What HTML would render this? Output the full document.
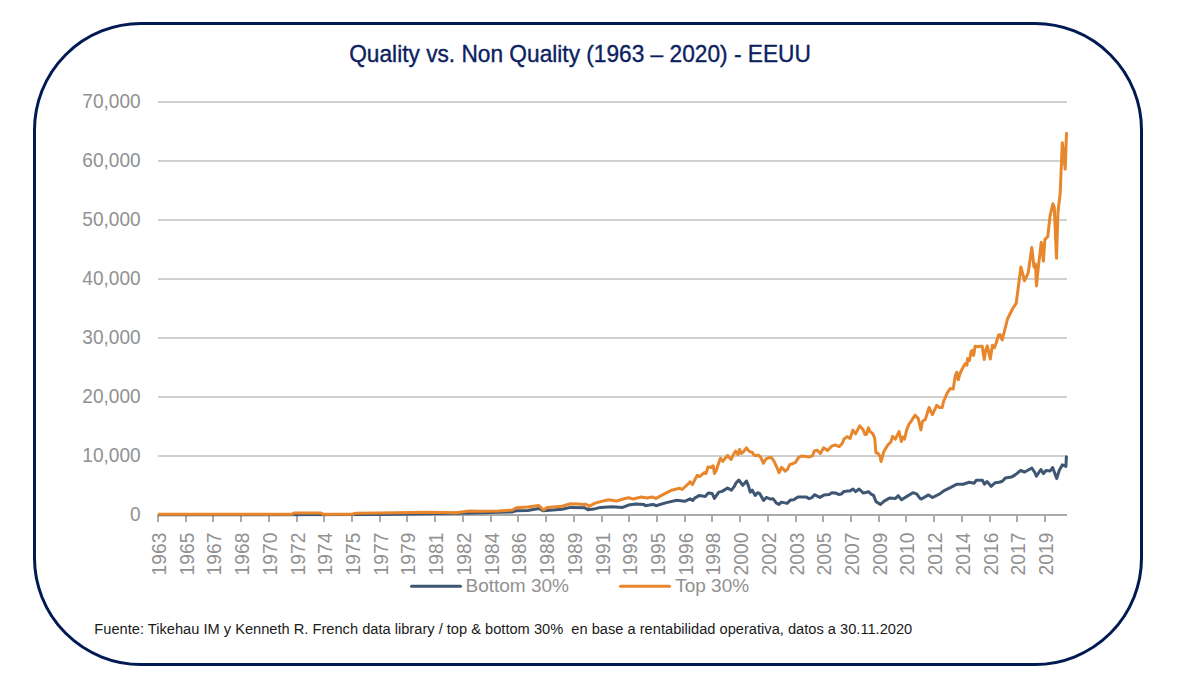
<!DOCTYPE html>
<html><head><meta charset="utf-8"><style>
html,body{margin:0;padding:0;background:#fff;}
body{width:1196px;height:688px;overflow:hidden;}
svg{display:block;}
text{font-family:"Liberation Sans",sans-serif;}
</style></head><body>
<svg width="1196" height="688" viewBox="0 0 1196 688">
<rect x="0" y="0" width="1196" height="688" fill="#fff"/>
<rect x="34.5" y="23.5" width="1107" height="641" rx="106.5" ry="106.5" fill="none" stroke="#001a52" stroke-width="3"/>
<text transform="translate(349.20,61.70) scale(1.0,1.09)" font-size="22.7" fill="#0c2260" stroke="#0c2260" stroke-width="0.35">Quality vs. Non Quality (1963 – 2020) - EEUU</text>
<line x1="158" y1="456.00" x2="1067" y2="456.00" stroke="#d0d0d0" stroke-width="2"/>
<line x1="158" y1="397.00" x2="1067" y2="397.00" stroke="#d0d0d0" stroke-width="2"/>
<line x1="158" y1="338.00" x2="1067" y2="338.00" stroke="#d0d0d0" stroke-width="2"/>
<line x1="158" y1="279.00" x2="1067" y2="279.00" stroke="#d0d0d0" stroke-width="2"/>
<line x1="158" y1="220.00" x2="1067" y2="220.00" stroke="#d0d0d0" stroke-width="2"/>
<line x1="158" y1="161.00" x2="1067" y2="161.00" stroke="#d0d0d0" stroke-width="2"/>
<line x1="158" y1="102.00" x2="1067" y2="102.00" stroke="#d0d0d0" stroke-width="2"/>
<text transform="translate(140.60,521.30) scale(1.0,1.05)" font-size="19.05" fill="#919191" text-anchor="end">0</text>
<text transform="translate(140.60,462.30) scale(1.0,1.05)" font-size="19.05" fill="#919191" text-anchor="end">10,000</text>
<text transform="translate(140.60,403.30) scale(1.0,1.05)" font-size="19.05" fill="#919191" text-anchor="end">20,000</text>
<text transform="translate(140.60,344.30) scale(1.0,1.05)" font-size="19.05" fill="#919191" text-anchor="end">30,000</text>
<text transform="translate(140.60,285.30) scale(1.0,1.05)" font-size="19.05" fill="#919191" text-anchor="end">40,000</text>
<text transform="translate(140.60,226.30) scale(1.0,1.05)" font-size="19.05" fill="#919191" text-anchor="end">50,000</text>
<text transform="translate(140.60,167.30) scale(1.0,1.05)" font-size="19.05" fill="#919191" text-anchor="end">60,000</text>
<text transform="translate(140.60,108.30) scale(1.0,1.05)" font-size="19.05" fill="#919191" text-anchor="end">70,000</text>
<line x1="157" y1="515" x2="1067" y2="515" stroke="#aaaaaa" stroke-width="2"/>
<line x1="158" y1="515" x2="158" y2="522" stroke="#aaaaaa" stroke-width="2"/>
<text transform="translate(166.00,532.70) rotate(-90) scale(1.0,1.05)" font-size="19.2" fill="#919191" text-anchor="end">1963</text>
<line x1="186" y1="515" x2="186" y2="522" stroke="#aaaaaa" stroke-width="2"/>
<text transform="translate(194.00,532.70) rotate(-90) scale(1.0,1.05)" font-size="19.2" fill="#919191" text-anchor="end">1965</text>
<line x1="213" y1="515" x2="213" y2="522" stroke="#aaaaaa" stroke-width="2"/>
<text transform="translate(221.00,532.70) rotate(-90) scale(1.0,1.05)" font-size="19.2" fill="#919191" text-anchor="end">1967</text>
<line x1="241" y1="515" x2="241" y2="522" stroke="#aaaaaa" stroke-width="2"/>
<text transform="translate(249.00,532.70) rotate(-90) scale(1.0,1.05)" font-size="19.2" fill="#919191" text-anchor="end">1968</text>
<line x1="269" y1="515" x2="269" y2="522" stroke="#aaaaaa" stroke-width="2"/>
<text transform="translate(277.00,532.70) rotate(-90) scale(1.0,1.05)" font-size="19.2" fill="#919191" text-anchor="end">1970</text>
<line x1="297" y1="515" x2="297" y2="522" stroke="#aaaaaa" stroke-width="2"/>
<text transform="translate(305.00,532.70) rotate(-90) scale(1.0,1.05)" font-size="19.2" fill="#919191" text-anchor="end">1972</text>
<line x1="324" y1="515" x2="324" y2="522" stroke="#aaaaaa" stroke-width="2"/>
<text transform="translate(332.00,532.70) rotate(-90) scale(1.0,1.05)" font-size="19.2" fill="#919191" text-anchor="end">1974</text>
<line x1="352" y1="515" x2="352" y2="522" stroke="#aaaaaa" stroke-width="2"/>
<text transform="translate(360.00,532.70) rotate(-90) scale(1.0,1.05)" font-size="19.2" fill="#919191" text-anchor="end">1975</text>
<line x1="380" y1="515" x2="380" y2="522" stroke="#aaaaaa" stroke-width="2"/>
<text transform="translate(388.00,532.70) rotate(-90) scale(1.0,1.05)" font-size="19.2" fill="#919191" text-anchor="end">1977</text>
<line x1="407" y1="515" x2="407" y2="522" stroke="#aaaaaa" stroke-width="2"/>
<text transform="translate(415.00,532.70) rotate(-90) scale(1.0,1.05)" font-size="19.2" fill="#919191" text-anchor="end">1979</text>
<line x1="435" y1="515" x2="435" y2="522" stroke="#aaaaaa" stroke-width="2"/>
<text transform="translate(443.00,532.70) rotate(-90) scale(1.0,1.05)" font-size="19.2" fill="#919191" text-anchor="end">1981</text>
<line x1="463" y1="515" x2="463" y2="522" stroke="#aaaaaa" stroke-width="2"/>
<text transform="translate(471.00,532.70) rotate(-90) scale(1.0,1.05)" font-size="19.2" fill="#919191" text-anchor="end">1982</text>
<line x1="491" y1="515" x2="491" y2="522" stroke="#aaaaaa" stroke-width="2"/>
<text transform="translate(499.00,532.70) rotate(-90) scale(1.0,1.05)" font-size="19.2" fill="#919191" text-anchor="end">1984</text>
<line x1="518" y1="515" x2="518" y2="522" stroke="#aaaaaa" stroke-width="2"/>
<text transform="translate(526.00,532.70) rotate(-90) scale(1.0,1.05)" font-size="19.2" fill="#919191" text-anchor="end">1986</text>
<line x1="546" y1="515" x2="546" y2="522" stroke="#aaaaaa" stroke-width="2"/>
<text transform="translate(554.00,532.70) rotate(-90) scale(1.0,1.05)" font-size="19.2" fill="#919191" text-anchor="end">1988</text>
<line x1="574" y1="515" x2="574" y2="522" stroke="#aaaaaa" stroke-width="2"/>
<text transform="translate(582.00,532.70) rotate(-90) scale(1.0,1.05)" font-size="19.2" fill="#919191" text-anchor="end">1989</text>
<line x1="602" y1="515" x2="602" y2="522" stroke="#aaaaaa" stroke-width="2"/>
<text transform="translate(610.00,532.70) rotate(-90) scale(1.0,1.05)" font-size="19.2" fill="#919191" text-anchor="end">1991</text>
<line x1="629" y1="515" x2="629" y2="522" stroke="#aaaaaa" stroke-width="2"/>
<text transform="translate(637.00,532.70) rotate(-90) scale(1.0,1.05)" font-size="19.2" fill="#919191" text-anchor="end">1993</text>
<line x1="657" y1="515" x2="657" y2="522" stroke="#aaaaaa" stroke-width="2"/>
<text transform="translate(665.00,532.70) rotate(-90) scale(1.0,1.05)" font-size="19.2" fill="#919191" text-anchor="end">1995</text>
<line x1="685" y1="515" x2="685" y2="522" stroke="#aaaaaa" stroke-width="2"/>
<text transform="translate(693.00,532.70) rotate(-90) scale(1.0,1.05)" font-size="19.2" fill="#919191" text-anchor="end">1996</text>
<line x1="712" y1="515" x2="712" y2="522" stroke="#aaaaaa" stroke-width="2"/>
<text transform="translate(720.00,532.70) rotate(-90) scale(1.0,1.05)" font-size="19.2" fill="#919191" text-anchor="end">1998</text>
<line x1="740" y1="515" x2="740" y2="522" stroke="#aaaaaa" stroke-width="2"/>
<text transform="translate(748.00,532.70) rotate(-90) scale(1.0,1.05)" font-size="19.2" fill="#919191" text-anchor="end">2000</text>
<line x1="768" y1="515" x2="768" y2="522" stroke="#aaaaaa" stroke-width="2"/>
<text transform="translate(776.00,532.70) rotate(-90) scale(1.0,1.05)" font-size="19.2" fill="#919191" text-anchor="end">2002</text>
<line x1="796" y1="515" x2="796" y2="522" stroke="#aaaaaa" stroke-width="2"/>
<text transform="translate(804.00,532.70) rotate(-90) scale(1.0,1.05)" font-size="19.2" fill="#919191" text-anchor="end">2003</text>
<line x1="823" y1="515" x2="823" y2="522" stroke="#aaaaaa" stroke-width="2"/>
<text transform="translate(831.00,532.70) rotate(-90) scale(1.0,1.05)" font-size="19.2" fill="#919191" text-anchor="end">2005</text>
<line x1="851" y1="515" x2="851" y2="522" stroke="#aaaaaa" stroke-width="2"/>
<text transform="translate(859.00,532.70) rotate(-90) scale(1.0,1.05)" font-size="19.2" fill="#919191" text-anchor="end">2007</text>
<line x1="879" y1="515" x2="879" y2="522" stroke="#aaaaaa" stroke-width="2"/>
<text transform="translate(887.00,532.70) rotate(-90) scale(1.0,1.05)" font-size="19.2" fill="#919191" text-anchor="end">2009</text>
<line x1="906" y1="515" x2="906" y2="522" stroke="#aaaaaa" stroke-width="2"/>
<text transform="translate(914.00,532.70) rotate(-90) scale(1.0,1.05)" font-size="19.2" fill="#919191" text-anchor="end">2010</text>
<line x1="934" y1="515" x2="934" y2="522" stroke="#aaaaaa" stroke-width="2"/>
<text transform="translate(942.00,532.70) rotate(-90) scale(1.0,1.05)" font-size="19.2" fill="#919191" text-anchor="end">2012</text>
<line x1="962" y1="515" x2="962" y2="522" stroke="#aaaaaa" stroke-width="2"/>
<text transform="translate(970.00,532.70) rotate(-90) scale(1.0,1.05)" font-size="19.2" fill="#919191" text-anchor="end">2014</text>
<line x1="990" y1="515" x2="990" y2="522" stroke="#aaaaaa" stroke-width="2"/>
<text transform="translate(998.00,532.70) rotate(-90) scale(1.0,1.05)" font-size="19.2" fill="#919191" text-anchor="end">2016</text>
<line x1="1017" y1="515" x2="1017" y2="522" stroke="#aaaaaa" stroke-width="2"/>
<text transform="translate(1025.00,532.70) rotate(-90) scale(1.0,1.05)" font-size="19.2" fill="#919191" text-anchor="end">2017</text>
<line x1="1045" y1="515" x2="1045" y2="522" stroke="#aaaaaa" stroke-width="2"/>
<text transform="translate(1053.00,532.70) rotate(-90) scale(1.0,1.05)" font-size="19.2" fill="#919191" text-anchor="end">2019</text>
<polyline points="158.0,514.8 380.0,514.5 470.0,513.0 512.5,511.9 516.3,510.8 527.6,510.4 538.9,508.5 543.4,510.8 562.2,509.3 570.5,507.4 584.8,507.8 585.3,508.1 587.7,509.4 587.8,509.7 593.7,509.1 600.4,507.4 611.8,506.7 622.5,507.4 628.5,505.1 635.8,504.1 643.9,504.4 645.2,505.7 649.2,505.1 653.2,504.4 655.9,505.7 666.4,502.6 676.8,500.3 684.7,501.3 690.0,498.8 692.7,500.4 694.7,498.1 699.4,495.4 705.4,496.4 708.1,493.1 712.1,493.4 714.4,498.4 718.8,492.1 722.1,491.4 727.5,488.1 731.5,490.1 734.1,486.7 736.2,482.7 738.8,480.0 742.8,485.4 746.5,481.0 748.5,486.1 750.2,492.1 752.2,490.1 755.2,495.4 757.6,492.7 759.6,493.4 763.6,500.4 766.3,497.4 770.0,498.8 770.4,499.1 773.0,498.7 776.4,503.1 779.0,504.4 781.4,502.1 787.1,503.4 790.4,500.1 793.8,499.7 797.8,497.1 806.5,497.1 809.1,498.7 811.8,497.7 814.5,494.7 819.8,497.4 823.9,495.1 829.2,494.4 831.9,492.7 835.9,493.1 838.6,494.4 841.3,494.1 843.9,491.4 845.4,491.4 846.7,491.1 850.0,491.1 853.0,489.0 855.7,491.7 859.1,489.0 863.4,493.1 868.4,491.7 871.4,494.4 873.4,495.1 876.1,501.8 880.5,504.4 884.1,501.1 889.5,498.1 895.5,498.4 898.2,495.7 901.5,499.7 906.9,496.4 912.9,492.7 916.9,494.1 920.0,498.4 921.4,499.0 928.5,494.9 932.5,497.5 939.7,493.9 944.7,490.3 950.8,487.3 957.0,484.2 963.1,484.2 969.2,482.2 974.2,483.2 976.3,480.2 982.4,480.2 984.4,484.2 987.0,481.5 991.1,486.3 995.2,482.7 999.2,482.2 1002.3,481.2 1005.3,478.1 1011.4,477.1 1015.5,474.6 1020.6,470.5 1024.7,472.0 1031.8,468.0 1034.8,472.5 1036.4,476.1 1040.9,469.5 1043.5,473.6 1046.0,470.5 1050.1,471.0 1052.6,467.5 1056.7,478.6 1059.2,470.5 1062.3,464.9 1065.9,466.4 1066.4,456.8" fill="none" stroke="#3e5673" stroke-width="3.0" stroke-linejoin="round" stroke-linecap="butt"/>
<polyline points="158.0,514.3 292.0,514.3 294.0,513.0 321.0,513.0 323.0,514.2 352.0,514.2 356.0,513.3 380.0,513.1 427.4,512.2 455.5,512.7 469.6,511.0 480.0,511.3 498.0,510.9 512.5,510.0 516.3,507.8 527.6,507.0 538.9,505.5 543.4,510.0 547.1,507.4 562.2,506.3 570.5,503.7 577.2,504.0 584.8,504.4 585.3,504.0 588.5,505.5 589.0,506.4 595.0,503.1 601.7,501.4 608.4,499.7 616.4,501.1 623.1,499.0 628.5,497.7 633.2,499.0 641.2,497.0 647.2,498.0 651.9,497.0 655.9,498.4 671.6,490.2 679.5,488.2 682.1,489.5 689.9,482.3 690.0,481.8 692.4,484.6 694.8,479.8 697.2,475.4 699.6,476.6 702.0,474.6 704.4,472.6 706.0,473.4 708.0,467.0 710.8,467.4 713.2,465.8 714.4,473.4 716.4,470.2 718.0,465.0 720.4,458.2 722.8,461.4 725.2,458.2 727.6,455.4 729.2,457.4 731.2,459.4 733.2,455.0 735.6,451.0 738.0,454.6 739.6,449.4 741.2,453.4 743.2,452.2 746.4,447.8 749.2,451.4 752.0,452.2 753.9,455.0 756.2,455.7 758.5,455.1 760.8,457.4 763.4,463.3 766.0,458.9 769.0,457.7 771.3,457.4 774.2,461.5 776.5,466.7 779.1,472.6 781.5,467.3 785.2,471.1 787.6,469.1 789.9,464.4 792.8,463.8 795.7,462.1 798.6,457.4 801.5,456.0 806.2,456.6 809.7,456.9 812.6,455.7 814.3,451.0 817.2,450.2 820.4,453.4 823.6,447.8 827.6,450.6 831.6,446.2 835.2,445.0 839.2,446.6 842.0,443.8 844.0,439.0 847.2,436.6 850.0,438.6 852.8,430.2 855.6,433.8 859.6,425.8 863.1,429.8 865.1,434.6 866.7,434.2 868.3,427.8 870.3,431.8 872.7,433.4 874.7,438.2 875.9,452.6 877.9,453.4 880.0,456.1 881.1,461.5 883.8,451.7 887.6,445.2 890.9,441.9 892.5,436.4 895.3,439.2 899.1,431.5 901.3,441.4 902.9,437.0 904.5,439.2 906.7,429.9 908.9,424.4 911.6,420.6 914.9,415.2 918.2,418.4 920.9,429.9 922.5,421.2 925.3,419.5 929.1,407.5 932.4,414.6 936.7,405.4 939.4,407.5 942.2,407.5 943.8,400.5 944.6,399.2 947.1,393.1 950.2,388.5 953.2,389.0 955.3,375.8 956.8,372.2 958.3,379.8 960.3,372.7 963.4,366.6 965.4,363.6 967.0,365.1 967.5,358.5 969.5,360.5 971.0,351.9 972.5,350.3 973.6,355.4 975.1,346.3 978.1,346.8 980.2,346.3 982.2,346.3 984.2,359.5 985.8,350.3 987.3,345.8 990.3,359.0 992.4,345.3 994.4,347.8 996.4,342.2 998.5,335.1 1000.0,334.6 1002.2,340.0 1007.5,319.0 1012.7,308.5 1016.2,303.3 1020.9,267.0 1024.5,280.8 1028.2,272.8 1031.8,247.4 1034.0,267.0 1035.4,264.1 1036.5,285.9 1038.3,267.0 1041.3,242.3 1043.4,261.2 1044.9,239.4 1047.8,236.5 1050.0,216.2 1052.9,203.8 1054.3,207.4 1056.5,258.3 1058.0,211.8 1060.2,192.9 1062.3,142.7 1065.2,169.1 1066.5,133.2" fill="none" stroke="#e8862b" stroke-width="3.0" stroke-linejoin="round" stroke-linecap="butt"/>
<circle cx="1066.5" cy="133.2" r="1.5" fill="#e8862b"/>
<circle cx="1066.4" cy="456.8" r="1.5" fill="#3e5673"/>
<line x1="411.5" y1="586.3" x2="460.5" y2="586.3" stroke="#3e5673" stroke-width="3" stroke-linecap="round"/>
<text transform="translate(465.50,591.60)" font-size="19.0" fill="#919191">Bottom 30%</text>
<line x1="620.5" y1="586.3" x2="669.5" y2="586.3" stroke="#e8862b" stroke-width="3" stroke-linecap="round"/>
<text transform="translate(675.20,591.60)" font-size="19.0" fill="#919191">Top 30%</text>
<text transform="translate(94.30,633.80) scale(1.0,0.98)" font-size="14.65" fill="#1a1a1a">Fuente: Tikehau IM y Kenneth R. French data library / top &amp; bottom 30%&#160; en base a rentabilidad operativa, datos a 30.11.2020</text>
</svg></body></html>
